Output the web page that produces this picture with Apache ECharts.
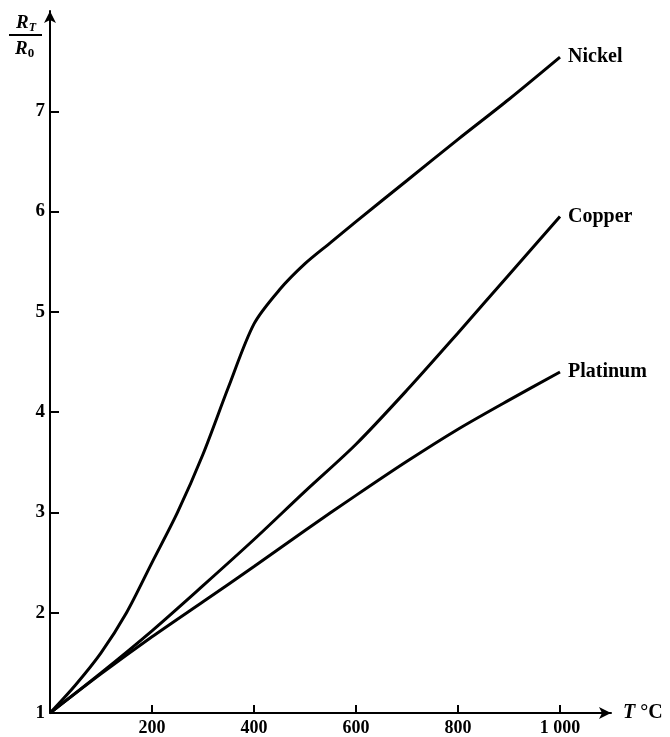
<!DOCTYPE html>
<html>
<head>
<meta charset="utf-8">
<script src="https://cdn.jsdelivr.net/npm/echarts@6/dist/echarts.min.js"></script>
<style>html,body{margin:0;padding:0;background:#fff}#c{width:670px;height:737px}</style>
</head>
<body>
<div id="c"></div>
<script>
var temps = [0, 50, 100, 150, 200, 250, 300, 350, 400, 450, 500, 550, 600, 700, 800, 900, 1000];
var nickel = [1, 1.28, 1.60, 2.00, 2.50, 3.00, 3.58, 4.25, 4.88, 5.22, 5.48, 5.69, 5.90, 6.31, 6.72, 7.12, 7.54];
var cuTemps = [0, 100, 200, 300, 400, 500, 600, 700, 800, 900, 1000];
var copper = [1, 1.40, 1.82, 2.27, 2.73, 3.21, 3.68, 4.22, 4.79, 5.37, 5.95];
var platinum = [1, 1.39, 1.76, 2.11, 2.46, 2.82, 3.17, 3.51, 3.83, 4.12, 4.40];
var xTicks = [200, 400, 600, 800, 1000];
var xTickLabels = ['200', '400', '600', '800', '1 000'];
var yTicks = [1, 2, 3, 4, 5, 6, 7];
var seriesNames = ['Nickel', 'Copper', 'Platinum'];

function pairs(xs, ys) { return xs.map(function (x, i) { return [x, ys[i]]; }); }

var font = 'Liberation Serif';
var chart = echarts.init(document.getElementById('c'));
function mk(name, data) {
  return {
    name: name, type: 'line', data: data, smooth: 0.3, symbol: 'none',
    lineStyle: { color: '#000', width: 3 },
    endLabel: { show: true, formatter: '{a}', distance: 8, color: '#000',
      fontFamily: font, fontWeight: 'bold', fontSize: 20 }
  };
}
chart.setOption({
  animation: false,
  backgroundColor: '#fff',
  grid: { left: 50, right: 59, top: 11, bottom: 23 },
  xAxis: {
    type: 'value', min: 0, max: 1100,
    name: '{i|T} °C', nameGap: 12,
    nameTextStyle: { rich: { i: { fontStyle: 'italic', fontFamily: font, fontWeight: 'bold', fontSize: 20, color: '#000' } },
      fontFamily: font, fontWeight: 'bold', fontSize: 20, color: '#000' },
    axisLine: { lineStyle: { color: '#000', width: 2 }, symbol: ['none', 'arrow'], symbolSize: [9, 12] },
    axisTick: { inside: true, length: 8, lineStyle: { color: '#000', width: 2 }, customValues: xTicks },
    axisLabel: { customValues: xTicks, margin: 6, color: '#000', fontFamily: font, fontWeight: 'bold', fontSize: 18,
      formatter: function (v) { var i = xTicks.indexOf(v); return i >= 0 ? xTickLabels[i] : ''; } },
    splitLine: { show: false }
  },
  yAxis: {
    type: 'value', min: 1, max: 8,
    axisLine: { show: true, lineStyle: { color: '#000', width: 2 }, symbol: ['none', 'arrow'], symbolSize: [9, 12] },
    axisTick: { show: true, inside: true, length: 9, lineStyle: { color: '#000', width: 2 }, customValues: yTicks },
    axisLabel: { customValues: yTicks, margin: 5, color: '#000', fontFamily: font, fontWeight: 'bold', fontSize: 19 },
    splitLine: { show: false }
  },
  graphic: [
    { type: 'text', left: 16, top: 14, style: { text: '{r|R}{s|T}', rich: { r: { fontFamily: font, fontStyle: 'italic', fontWeight: 'bold', fontSize: 19, fill: '#000' }, s: { fontFamily: font, fontStyle: 'italic', fontWeight: 'bold', fontSize: 12, fill: '#000', padding: [8, 0, 0, 0] } } } },
    { type: 'line', shape: { x1: 9, y1: 35, x2: 42, y2: 35 }, style: { stroke: '#000', lineWidth: 2 } },
    { type: 'text', left: 15, top: 40, style: { text: '{r|R}{s|0}', rich: { r: { fontFamily: font, fontStyle: 'italic', fontWeight: 'bold', fontSize: 19, fill: '#000' }, s: { fontFamily: font, fontWeight: 'bold', fontSize: 13, fill: '#000', padding: [8, 0, 0, 0] } } } }
  ],
  series: [
    mk(seriesNames[0], pairs(temps, nickel)),
    mk(seriesNames[1], pairs(cuTemps, copper)),
    mk(seriesNames[2], pairs(cuTemps, platinum))
  ]
});
</script>
</body>
</html>
